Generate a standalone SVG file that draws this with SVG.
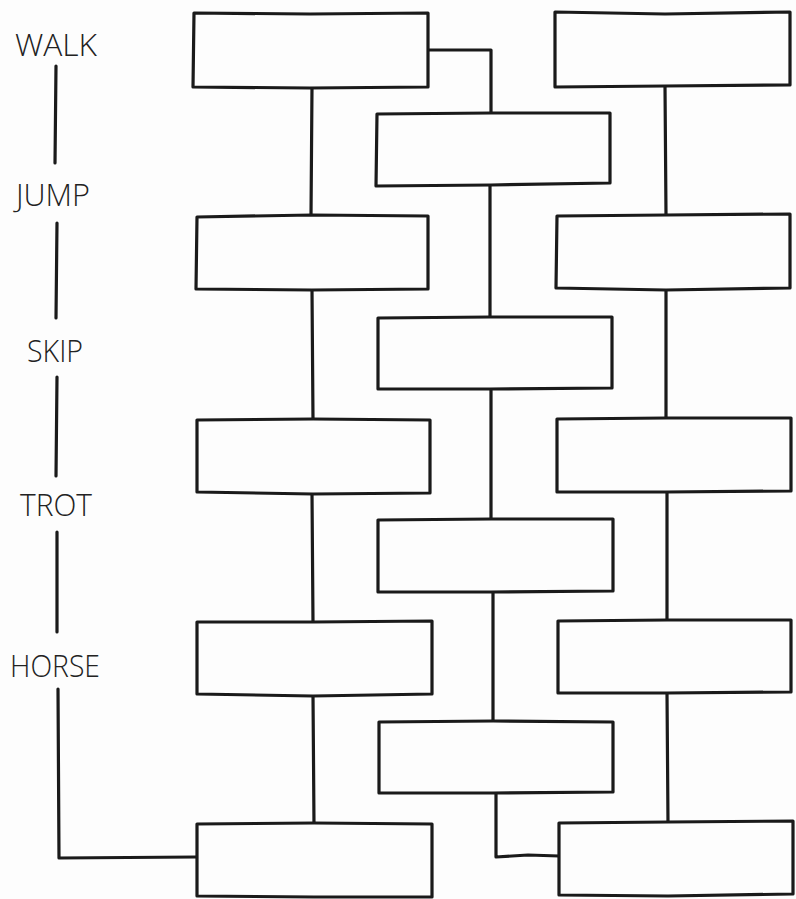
<svg xmlns="http://www.w3.org/2000/svg" width="796" height="899" viewBox="0 0 796 899">
<style>
.bg{fill:#fdfdfd}
.box{fill:#fdfdfd;stroke:#1a1a1a;stroke-width:3.2;stroke-linejoin:round}
.ln{fill:none;stroke:#1a1a1a;stroke-width:3.2;stroke-linecap:round;stroke-linejoin:round}
.lbl{font-family:"Open Sans","Noto Sans",sans-serif;font-size:32px;font-weight:300;fill:#222}
</style>
<rect class="bg" x="0" y="0" width="796" height="899"/>
<g id="connectors">
  <path class="ln" d="M312 87 L311 216 M312 290 L313 420 M312 493 L313 622 M313 695 L314 824"/>
  <path class="ln" d="M428 50 L491 50 L491 113 M490 186 L490 317 M491 389 L491 519 M493 592 L493 721 M496 793 L496 857 L528 855 L559 856"/>
  <path class="ln" d="M665 86 L666 215 M666 290 L666 418 M667 492 L667 620 M667 693 L668 822"/>
  <path class="ln" d="M56 66 L55 163 M57 223 L56 318 M57 377 L56 476 M57 532 L57 632 M58 689 L59 858 L196 857"/>
</g>
<g id="label-walk"><text class="lbl" x="15" y="56" textLength="82" lengthAdjust="spacingAndGlyphs">WALK</text></g>
<g id="label-jump"><text class="lbl" x="16" y="206" textLength="74" lengthAdjust="spacingAndGlyphs">JUMP</text></g>
<g id="label-skip"><text class="lbl" x="27" y="362" textLength="56" lengthAdjust="spacingAndGlyphs">SKIP</text></g>
<g id="label-trot"><text class="lbl" x="20" y="516" textLength="72" lengthAdjust="spacingAndGlyphs">TROT</text></g>
<g id="label-horse"><text class="lbl" x="10" y="677" textLength="90" lengthAdjust="spacingAndGlyphs">HORSE</text></g>
<g id="box-l1"><path class="box" d="M194 13 L310 14 L428 13 L428 87 L310 88 L193 87 Z"/></g>
<g id="box-l2"><path class="box" d="M197 217 L312 215 L428 216 L428 289 L312 290 L196 289 Z"/></g>
<g id="box-l3"><path class="box" d="M197 420 L313 419 L430 420 L430 493 L313 494 L197 492 Z"/></g>
<g id="box-l4"><path class="box" d="M197 622 L313 622 L432 621 L432 694 L313 696 L197 694 Z"/></g>
<g id="box-l5"><path class="box" d="M197 824 L314 823 L432 824 L432 897 L314 897 L197 896 Z"/></g>
<g id="box-m1"><path class="box" d="M377 114 L491 113 L610 113 L610 183 L491 185 L376 186 Z"/></g>
<g id="box-m2"><path class="box" d="M378 318 L490 317 L612 317 L612 388 L490 389 L378 389 Z"/></g>
<g id="box-m3"><path class="box" d="M378 520 L491 519 L613 519 L613 591 L491 592 L378 592 Z"/></g>
<g id="box-m4"><path class="box" d="M379 722 L493 721 L613 722 L613 792 L493 793 L379 793 Z"/></g>
<g id="box-r1"><path class="box" d="M555 12 L665 14 L790 12 L790 85 L665 86 L555 87 Z"/></g>
<g id="box-r2"><path class="box" d="M557 216 L666 215 L790 214 L790 288 L666 290 L556 288 Z"/></g>
<g id="box-r3"><path class="box" d="M557 419 L666 418 L791 418 L791 491 L666 492 L557 492 Z"/></g>
<g id="box-r4"><path class="box" d="M558 621 L667 620 L791 620 L791 692 L667 693 L558 693 Z"/></g>
<g id="box-r5"><path class="box" d="M559 823 L668 822 L793 821 L793 894 L668 896 L559 895 Z"/></g>
</svg>
